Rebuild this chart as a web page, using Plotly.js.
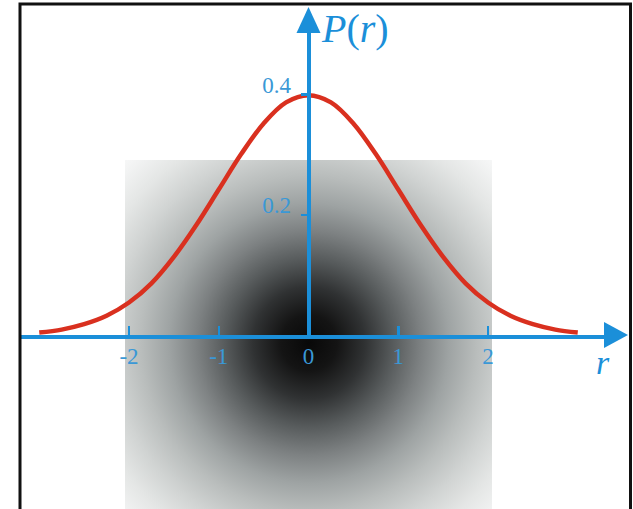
<!DOCTYPE html>
<html>
<head>
<meta charset="utf-8">
<script src="https://cdn.plot.ly/plotly-3.0.1.min.js"></script>
<style>
  html, body { margin: 0; padding: 0; background: #ffffff; }
  #chart { width: 633px; height: 509px; }
</style>
</head>
<body>
<div id="chart"></div>
<script>
// Probability density P(r) sampled along r
const rValues = [-3, -2.75, -2.5, -2.25, -2, -1.75, -1.5, -1.25, -1, -0.75, -0.5, -0.25,
                 0, 0.25, 0.5, 0.75, 1, 1.25, 1.5, 1.75, 2, 2.25, 2.5, 2.75, 3];
const pValues = [0.004, 0.009, 0.018, 0.032, 0.054, 0.086, 0.130, 0.183, 0.242, 0.301, 0.352, 0.387,
                 0.399, 0.387, 0.352, 0.301, 0.242, 0.183, 0.130, 0.086, 0.054, 0.032, 0.018, 0.009, 0.004];

// Axis ticks
const xTickValues = [-2, -1, 0, 1, 2];
const xTickLabels = ['-2', '-1', '0', '1', '2'];
const yTickValues = [0.2, 0.4];
const yTickLabels = ['0.2', '0.4'];

const W = 633, H = 509;
const BLUE = '#1b8fd9';
const LABEL_BLUE = '#3a98d6';
const RED = '#d9301f';
const SERIF = '"Liberation Serif", "Times New Roman", serif';

// pixel helpers for paper coordinates
const px = v => v / W;
const py = v => 1 - v / H;

// Shaded disc behind the curve (radial density seen from above)
const discSvg =
  "<svg xmlns='http://www.w3.org/2000/svg' width='367' height='349' viewBox='0 0 367 349'>" +
  "<defs><radialGradient id='g' gradientUnits='userSpaceOnUse' cx='184' cy='183' r='280'>" +
  "<stop offset='0' stop-color='#080808'/>" +
  "<stop offset='0.1' stop-color='#141414'/>" +
  "<stop offset='0.2' stop-color='#303233'/>" +
  "<stop offset='0.3' stop-color='#575b5c'/>" +
  "<stop offset='0.4' stop-color='#7d8182'/>" +
  "<stop offset='0.5' stop-color='#9ea3a3'/>" +
  "<stop offset='0.6' stop-color='#b9bdbc'/>" +
  "<stop offset='0.7' stop-color='#d0d3d2'/>" +
  "<stop offset='0.8' stop-color='#e4e6e5'/>" +
  "<stop offset='0.9' stop-color='#f3f4f4'/>" +
  "<stop offset='1' stop-color='#ffffff'/>" +
  "</radialGradient></defs>" +
  "<rect width='367' height='349' fill='url(#g)'/></svg>";
const discSrc = 'data:image/svg+xml;charset=utf-8,' + encodeURIComponent(discSvg);

const xDomain = [px(20), px(606)];
const yDomain = [py(335), py(31)];

const trace = {
  x: rValues,
  y: pValues,
  type: 'scatter',
  mode: 'lines',
  line: { color: RED, width: 4.5, shape: 'spline', smoothing: 1 },
  hoverinfo: 'skip'
};

const layout = {
  width: W,
  height: H,
  margin: { l: 0, r: 0, t: 0, b: 0 },
  paper_bgcolor: '#ffffff',
  plot_bgcolor: 'rgba(0,0,0,0)',
  showlegend: false,
  xaxis: {
    domain: xDomain,
    range: [-3.2145, 3.3148],
    anchor: 'y',
    showgrid: false,
    zeroline: false,
    showline: true,
    linecolor: BLUE,
    linewidth: 4,
    ticks: 'inside',
    ticklen: 9,
    tickwidth: 2.5,
    tickcolor: BLUE,
    tickvals: xTickValues,
    ticktext: xTickLabels,
    tickfont: { family: SERIF, size: 23, color: LABEL_BLUE },
    ticklabelstandoff: -3,
    fixedrange: true
  },
  yaxis: {
    domain: yDomain,
    range: [0, 0.5058],
    anchor: 'free',
    position: px(308.5),
    showgrid: false,
    zeroline: false,
    showline: true,
    linecolor: BLUE,
    linewidth: 4,
    ticks: 'outside',
    ticklen: 6,
    tickwidth: 2.5,
    tickcolor: BLUE,
    tickvals: yTickValues,
    ticktext: yTickLabels,
    tickfont: { family: SERIF, size: 23, color: LABEL_BLUE },
    ticklabelshift: -10,
    ticklabelstandoff: 5,
    fixedrange: true
  },
  images: [{
    source: discSrc,
    xref: 'paper', yref: 'paper',
    x: px(125), y: py(160),
    sizex: 367 / W, sizey: 349 / H,
    xanchor: 'left', yanchor: 'top',
    sizing: 'stretch',
    layer: 'below'
  }],
  shapes: [
    // arrowhead on the r axis
    {
      type: 'path', xref: 'paper', yref: 'paper',
      xsizemode: 'pixel', ysizemode: 'pixel',
      xanchor: xDomain[1], yanchor: yDomain[0],
      path: 'M -2,-13 L 22,0 L -2,13 Z',
      fillcolor: BLUE, line: { width: 0 }
    },
    // arrowhead on the P(r) axis
    {
      type: 'path', xref: 'paper', yref: 'paper',
      xsizemode: 'pixel', ysizemode: 'pixel',
      xanchor: px(308.5), yanchor: yDomain[1],
      path: 'M -12,-2 L 0,24 L 12,-2 Z',
      fillcolor: BLUE, line: { width: 0 }
    },
    // frame
    {
      type: 'rect', xref: 'paper', yref: 'paper',
      x0: px(20), x1: px(630.5), y0: -0.1, y1: py(4),
      line: { color: '#111111', width: 3 },
      fillcolor: 'rgba(0,0,0,0)'
    }
  ],
  annotations: [
    {
      xref: 'paper', yref: 'paper',
      x: px(355), y: py(29),
      xanchor: 'center', yanchor: 'middle',
      text: '<i>P</i>(<i>r</i>)',
      showarrow: false,
      font: { family: SERIF, size: 40, color: BLUE }
    },
    {
      xref: 'paper', yref: 'paper',
      x: px(603), y: py(362),
      xanchor: 'center', yanchor: 'middle',
      text: '<i>r</i>',
      showarrow: false,
      font: { family: SERIF, size: 34, color: BLUE }
    }
  ]
};

Plotly.newPlot('chart', [trace], layout, { staticPlot: true, displayModeBar: false });
</script>
</body>
</html>
